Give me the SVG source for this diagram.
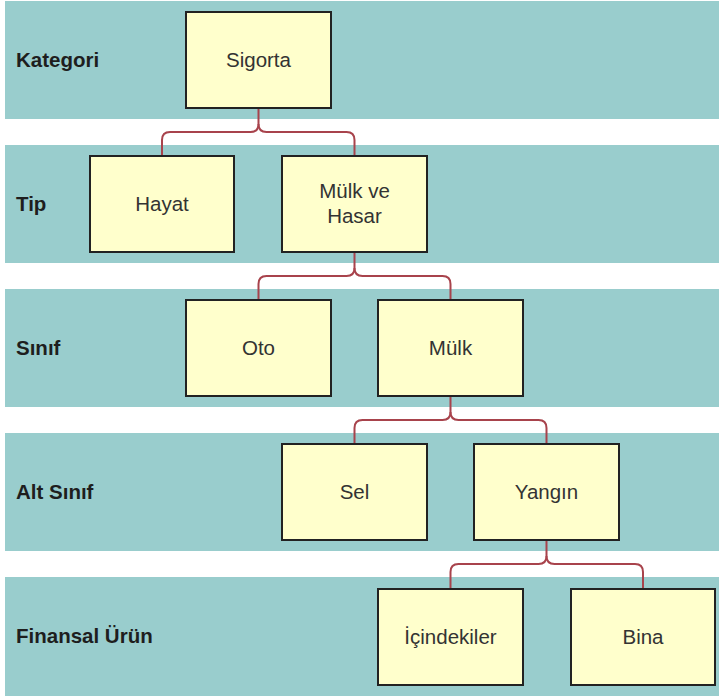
<svg xmlns="http://www.w3.org/2000/svg" width="719" height="700" viewBox="0 0 719 700">
<style>
.band{fill:#99CDCD}
.blabel{font-family:"Liberation Sans",Arial,sans-serif;font-weight:bold;font-size:20.5px;fill:#1e1e1e}
.node rect{fill:#FFFFCC;stroke:#222;stroke-width:2}
.node text{font-family:"Liberation Sans",Arial,sans-serif;font-size:20.5px;fill:#333;text-anchor:middle}
.conn path{fill:none;stroke:#A8434C;stroke-width:2}
</style>
<rect width="719" height="700" fill="#fff"/>
<g id="bands">
<rect class="band" x="5" y="1" width="714" height="118"/>
<rect class="band" x="5" y="145" width="714" height="118"/>
<rect class="band" x="5" y="289" width="714" height="118"/>
<rect class="band" x="5" y="433" width="714" height="118"/>
<rect class="band" x="5" y="577" width="714" height="119"/>
<text class="blabel" x="16" y="67">Kategori</text>
<text class="blabel" x="16" y="211">Tip</text>
<text class="blabel" x="16" y="355">Sınıf</text>
<text class="blabel" x="16" y="499">Alt Sınıf</text>
<text class="blabel" x="16" y="643">Finansal Ürün</text>
</g>
<g class="conn" id="connectors">
<path d="M258.5 108 V124 Q258.5 132 250.5 132 H170 Q162 132 162 140 V156"/>
<path d="M258.5 124 Q258.5 132 266.5 132 H346.5 Q354.5 132 354.5 140 V156"/>
<path d="M354.5 252 V268 Q354.5 276 346.5 276 H266.5 Q258.5 276 258.5 284 V300"/>
<path d="M354.5 268 Q354.5 276 362.5 276 H442.5 Q450.5 276 450.5 284 V300"/>
<path d="M450.5 396 V412 Q450.5 420 442.5 420 H362.5 Q354.5 420 354.5 428 V444"/>
<path d="M450.5 412 Q450.5 420 458.5 420 H538.5 Q546.5 420 546.5 428 V444"/>
<path d="M546.5 540 V556 Q546.5 564 538.5 564 H458.5 Q450.5 564 450.5 572 V589"/>
<path d="M546.5 556 Q546.5 564 554.5 564 H635 Q643 564 643 572 V589"/>
</g>
<g class="node" id="sigorta"><rect x="186" y="12" width="145" height="96"/><text x="258.5" y="67">Sigorta</text></g>
<g class="node" id="hayat"><rect x="90" y="156" width="144" height="96"/><text x="162" y="211">Hayat</text></g>
<g class="node" id="mulk-ve-hasar"><rect x="282" y="156" width="145" height="96"/><text x="354.5" y="198">Mülk ve</text><text x="354.5" y="223">Hasar</text></g>
<g class="node" id="oto"><rect x="186" y="300" width="145" height="96"/><text x="258.5" y="355">Oto</text></g>
<g class="node" id="mulk"><rect x="378" y="300" width="145" height="96"/><text x="450.5" y="355">Mülk</text></g>
<g class="node" id="sel"><rect x="282" y="444" width="145" height="96"/><text x="354.5" y="499">Sel</text></g>
<g class="node" id="yangin"><rect x="474" y="444" width="145" height="96"/><text x="546.5" y="499">Yangın</text></g>
<g class="node" id="icindekiler"><rect x="378" y="589" width="145" height="96"/><text x="450.5" y="644">İçindekiler</text></g>
<g class="node" id="bina"><rect x="571" y="589" width="144" height="96"/><text x="643" y="644">Bina</text></g>
</svg>
